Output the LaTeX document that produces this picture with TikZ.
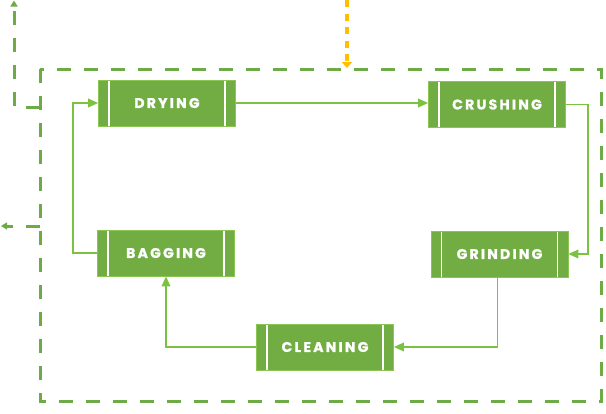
\documentclass[tikz,border=0pt]{standalone}
\usepackage{fontspec}
\newfontfamily\labfont{Poppins}[LetterSpace=16, BoldFeatures={FakeBold=1.2}]
\usetikzlibrary{arrows.meta}
\definecolor{boxgreen}{HTML}{72AD44}
\definecolor{boxedge}{HTML}{8CC652}
\definecolor{linkgreen}{HTML}{7CC242}
\definecolor{dashgreen}{HTML}{6CAB45}
\definecolor{orangeline}{HTML}{FFBE00}
\tikzset{
  stepbox/.style={rectangle, fill=boxgreen, draw=boxedge, line width=0.6pt,
    minimum width=137pt, minimum height=46pt, inner sep=0pt,
    text=white, font=\labfont\bfseries\fontsize{14}{16}\selectfont,
    path picture={
      \draw[white, line width=1.6pt]
        ([xshift=10.5pt]path picture bounding box.north west) --
        ([xshift=10.5pt]path picture bounding box.south west);
      \draw[white, line width=1.6pt]
        ([xshift=-10.5pt]path picture bounding box.north east) --
        ([xshift=-10.5pt]path picture bounding box.south east);
    }},
  link/.style={draw=linkgreen, line width=1.8pt,
    -{Triangle[length=10pt,width=8.5pt]}},
  outerdash/.style={draw=dashgreen, line width=3pt, dash pattern=on 14pt off 13pt},
  outerarrow/.style={outerdash, -{Triangle[length=6pt,width=7pt]}},
  orangedash/.style={draw=orangeline, line width=4.5pt, dash pattern=on 7pt off 6.5pt,
    -{Triangle[length=6pt,width=10pt]}}
}
\begin{document}
\begin{tikzpicture}[x=1pt,y=-1pt]
\useasboundingbox (0,0) rectangle (606,413);
% outer dashed boundary
\draw[outerdash] (40,69) rectangle (601,401);
\coordinate (ol1) at (40,107);
\coordinate (ol2) at (14,107);
\coordinate (ol3) at (14,0.5);
\coordinate (ol4) at (40,226);
\coordinate (ol5) at (1,226);
\draw[outerarrow] (ol1) -- (ol2) -- (ol3);
\draw[outerarrow] (ol4) -- (ol5);
\coordinate (or1) at (347,0);
\coordinate (or2) at (347,68);
\draw[orangedash] (or1) -- (or2);
% boxes
\node[stepbox] (drying)   at (167,103)   {DRYING};
\node[stepbox] (crushing) at (497,104.5) {CRUSHING};
\node[stepbox] (grinding) at (499.5,254) {GRINDING};
\node[stepbox] (cleaning) at (325,347)   {CLEANING};
\node[stepbox] (bagging)  at (166,253)   {BAGGING};
% connectors
\draw[link] (drying.east) -- (drying.east -| crushing.west);
\draw[link] (crushing.east) -- ++(22,0) |- (grinding.east);
\draw[link] ([xshift=-2pt]grinding.south) |- (cleaning.east);
\draw[link] (cleaning.west) -| (bagging.south);
\draw[link] (bagging.west) -- ++(-24,0) |- (drying.west);
\end{tikzpicture}
\end{document}
